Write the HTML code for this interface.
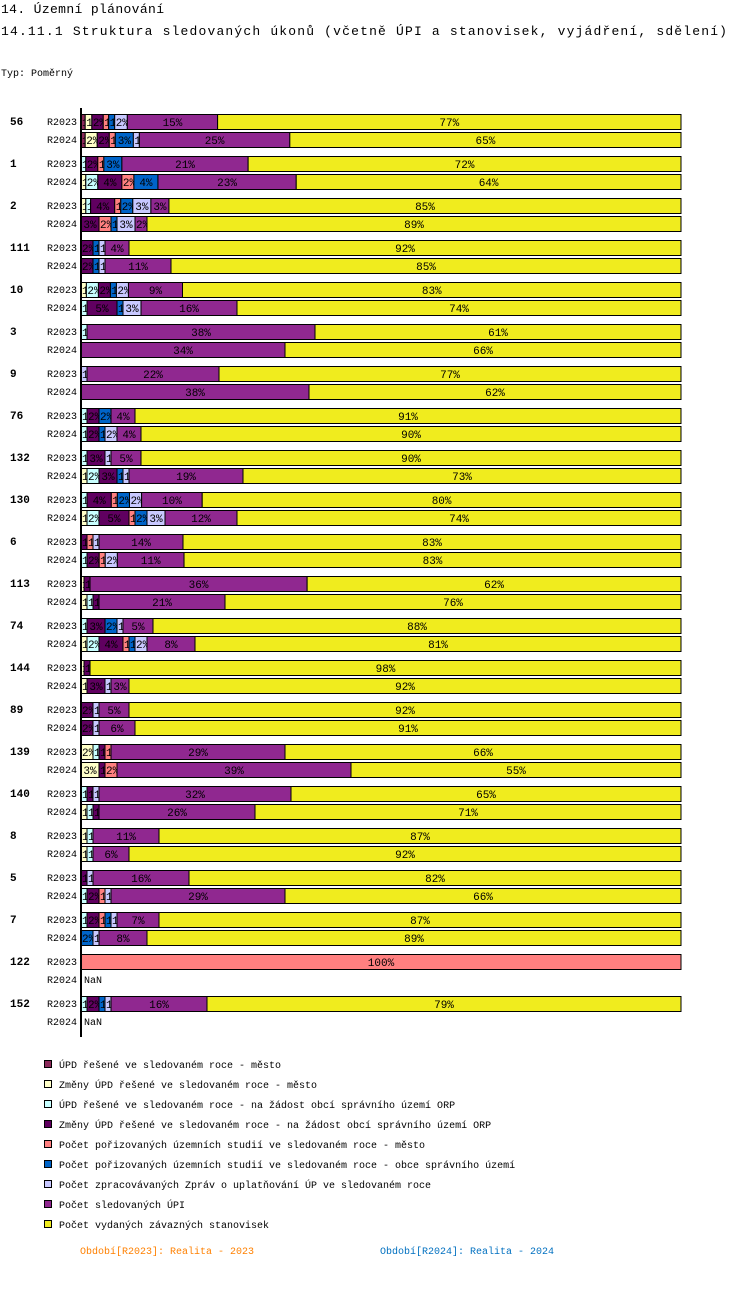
<!DOCTYPE html>
<html><head><meta charset="utf-8"><style>
body{margin:0;background:#fff;width:750px;height:1288px;overflow:hidden}
svg text{font-family:"Liberation Mono","DejaVu Sans Mono",monospace}
</style></head><body>
<svg id="c" width="750" height="1288" xmlns="http://www.w3.org/2000/svg">
<text x="1" y="13" font-size="13" textLength="163">14. Územní plánování</text>
<text x="1" y="35" font-size="13" textLength="726">14.11.1 Struktura sledovaných úkonů (včetně ÚPI a stanovisek, vyjádření, sdělení)</text>
<text x="1" y="76" font-size="10">Typ: Poměrný</text>
<g id="bars"></g>
<line x1="81" y1="108" x2="81" y2="1037" stroke="#000" stroke-width="2"/>
<g id="legend"></g>
<text x="80" y="1254" font-size="10" fill="#ff8000">Období[R2023]: Realita - 2023</text>
<text x="380" y="1254" font-size="10" fill="#0070c0">Období[R2024]: Realita - 2024</text>
</svg>
<script>
const seriesNames=["ÚPD řešené ve sledovaném roce - město","Změny ÚPD řešené ve sledovaném roce - město","ÚPD řešené ve sledovaném roce - na žádost obcí správního území ORP","Změny ÚPD řešené ve sledovaném roce - na žádost obcí správního území ORP","Počet pořizovaných územních studií ve sledovaném roce - město","Počet pořizovaných územních studií ve sledovaném roce - obce správního území","Počet zpracovávaných Zpráv o uplatňování ÚP ve sledovaném roce","Počet sledovaných ÚPI","Počet vydaných závazných stanovisek"];
const colors=["#8b2a5a","#ffffc8","#c8ffff","#600060","#ff8080","#0064c8","#c8c8ff","#902890","#f0ec1e"];
const groups=["56","1","2","111","10","3","9","76","132","130","6","113","74","144","89","139","140","8","5","7","122","152"];
const r2023=[
[0.7,1.1,0,1.9,0.9,1,2.1,15,77],[0,0,0.8,2,1,3,0,21,72],[0,0.8,0.8,4,1,2,3,3,85],[0,0,0,2,0,1,1,4,92],[0,0.9,2,2,0,1,2,9,83],
[0,0,1,0,0,0,0,38,61],[0,0,0,0,0,0,1,22,77],[0,0,1,2,0,2,0,4,91],[0,0,1,3,0,0,1,5,90],[0,0,1,4,1,2,2,10,79],
[0,0,0,1,1,0,1,14,83],[0,0.5,0,1,0,0,0,36,62],[0,0,1,3,0,2,1,5,88],[0,0.5,0,1,0,0,0,0,98],[0,0,0,2,0,0,1,5,92],
[0,2,1,1,1,0,0,29,66],[0,0,1,1,0,0,1,32,65],[0,1,1,0,0,0,0,11,87],[0,0,0,1,0,0,1,16,82],[0,0,1,2,1,1,1,7,87],
[0,0,0,0,100,0,0,0,0],[0,0,1,2,0,1,1,16,79]];
const r2024=[
[0.7,2,0,2,1,3,1,25,65],[0,0.8,2,4,2,4,0,23,64],[0,0,0,3,2,1,3,2,89],[0,0,0,2,0,1,1,11,85],[0,0,1,5,0,1,3,16,74],
[0,0,0,0,0,0,0,34,66],[0,0,0,0,0,0,0,38,62],[0,0,1,2,0,1,2,4,90],[0,1,2,3,0,1,1,19,73],[0,1,2,5,1,2,3,12,74],
[0,0,1,2,1,0,2,11,82],[0,1,1,1,0,0,0,21,76],[0,1,2,4,1,1,2,8,81],[0,1,0,3,0,0,1,3,92],[0,0,0,2,0,0,1,6,91],
[0,3,0,1,2,0,0,39,55],[0,1,1,1,0,0,0,26,71],[0,1,1,0,0,0,0,6,92],[0,0,1,2,1,0,1,29,66],[0,0,0,0,0,2,1,8,89],
null,null];
const NS="http://www.w3.org/2000/svg";
const X0=81,W=600;
function xs(v,total){return v/total*W;}
const bars=document.getElementById('bars');
function mk(tag,attrs,parent){const e=document.createElementNS(NS,tag);for(const k in attrs)e.setAttribute(k,attrs[k]);parent.appendChild(e);return e;}
groups.forEach((g,i)=>{
  const gy=114+42*i;
  const gl=mk('text',{x:10,y:gy+11,'font-size':11,'font-weight':'bold'},bars);
  gl.textContent=g;
  
  
  [[r2023[i],"R2023"],[r2024[i],"R2024"]].forEach(([row,lab],j)=>{
    const y=gy+18*j;
    const rl=mk('text',{x:47,y:y+11,'font-size':10},bars);
    rl.textContent=lab;
    
    
    if(!row){const n=mk('text',{x:84,y:y+11,'font-size':10},bars);n.textContent="NaN";
      
      return;}
    const total=row.reduce((a,b)=>a+b,0);
    let x=X0;
    row.forEach((v,k)=>{
      if(v<=0)return;
      const w=xs(v,total);
      const r=mk('rect',{x:x,y:y+0.5,width:w,height:15,fill:colors[k],stroke:'#000','stroke-width':1},bars);
      
      
      const id='cl'+i+'_'+j+'_'+k;
      const cp=mk('clipPath',{id:id},bars);mk('rect',{x:x,y:y,width:w,height:16},cp);
      const t=mk('text',{x:x+w/2,y:y+12,'font-size':11,'text-anchor':w<14?'start':'middle','clip-path':'url(#'+id+')'},bars);
      if(w<14)t.setAttribute('x',x+1);
      t.textContent=Math.round(v/total*100)+'%';
      
      
      x+=w;
    });
  });
});
const lg=document.getElementById('legend');
seriesNames.forEach((n,k)=>{
  const y=1060+20*k;
  const r=mk('rect',{x:44.5,y:y+0.5,width:7,height:7,fill:colors[k],stroke:'#000','stroke-width':1},lg);
  
  
  const t=mk('text',{x:59,y:y+8,'font-size':10},lg);t.textContent=n;
  
  
});
</script>
</body></html>
